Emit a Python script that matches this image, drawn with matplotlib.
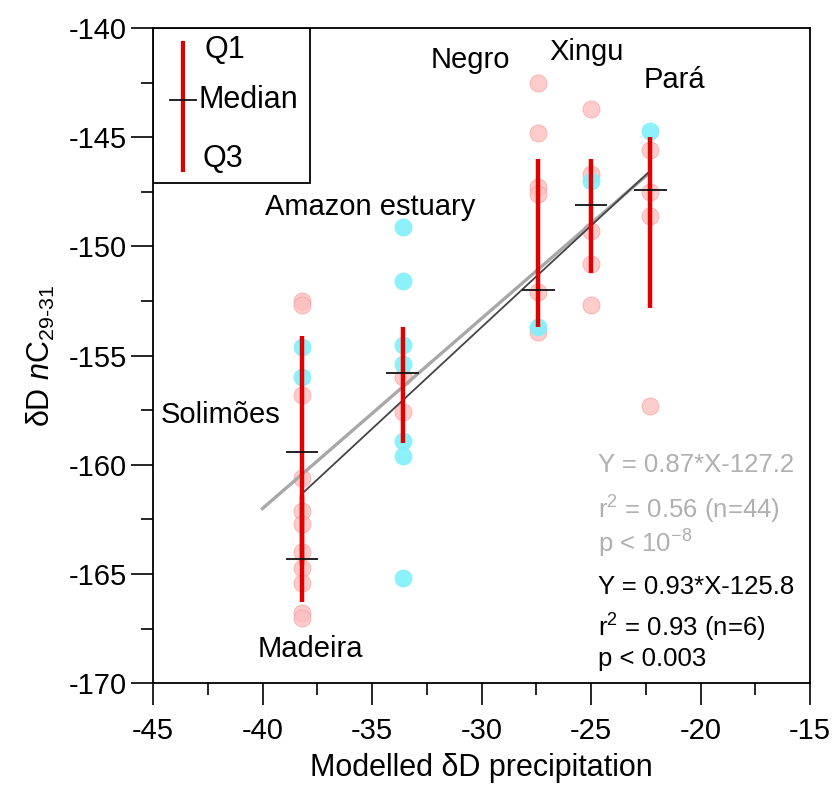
"""Leaf wax dD vs modelled precipitation dD, Amazon tributaries."""

import matplotlib.pyplot as plt
from matplotlib.patches import Rectangle

plt.rcParams["font.family"] = ["Liberation Sans", "DejaVu Sans"]
plt.rcParams["mathtext.fontset"] = "custom"
plt.rcParams["mathtext.rm"] = "Liberation Sans"
plt.rcParams["mathtext.it"] = "Liberation Sans:italic"
plt.rcParams["axes.unicode_minus"] = False

# --- data ---
pink_x = [-38.2] * 11 + [-33.6] * 2 + [-27.4] * 6 + [-25.0] * 5 + [-22.3] * 4
pink_y = [
    -152.5, -152.7, -156.8, -160.6, -162.1, -162.7, -164.0, -164.7, -165.4, -166.8, -167.0,
    -156.0, -157.6,
    -142.5, -144.8, -147.3, -147.6, -152.1, -153.9,
    -143.7, -146.7, -149.3, -150.8, -152.7,
    -145.6, -147.5, -148.6, -157.3,
]
cyan_x = [-38.2] * 2 + [-33.6] * 7 + [-27.4] + [-25.0] + [-22.3]
cyan_y = [
    -154.6, -156.0,
    -149.1, -151.6, -154.5, -155.4, -158.9, -159.6, -165.2,
    -153.7,
    -147.0,
    -144.7,
]

# site summaries: x, Q1, median, Q3
site_x = [-38.2, -38.2, -33.6, -27.4, -25.0, -22.3]
site_q1 = [-154.1, -161.4, -153.7, -146.0, -146.0, -145.0]
site_med = [-159.4, -164.3, -155.8, -152.0, -148.1, -147.4]
site_q3 = [-164.6, -166.3, -159.0, -153.7, -151.2, -152.8]

site_names = ["Solimões", "Madeira", "Amazon estuary", "Negro", "Xingu", "Pará"]
name_pos = [(-41.9, -157.7), (-37.8, -168.45), (-35.1, -148.2), (-30.5, -141.45), (-25.2, -141.1), (-21.2, -142.4)]

# regressions (all samples / site medians)
fit_all = (0.87, -127.2, -40.0, -22.3)
fit_med = (0.93, -125.8, -38.2, -22.3)

fig, ax = plt.subplots(figsize=(8.36, 7.89), dpi=100)
fig.subplots_adjust(left=0.183, right=0.969, bottom=0.134, top=0.9645)

ax.scatter(pink_x, pink_y, s=150, color="#ffbcbc", edgecolors="#f59a9a",
           linewidths=0.6, alpha=0.75, zorder=2)
ax.scatter(cyan_x, cyan_y, s=150, color="#80f0fa", edgecolors="#80f0fa",
           linewidths=0.6, alpha=0.9, zorder=2)

for slope, icpt, x0, x1, col, lw in [
    (*fit_all, "#a8a8a8", 2.4),
    (*fit_med, "#444444", 1.3),
]:
    ax.plot([x0, x1], [slope * x0 + icpt, slope * x1 + icpt], color=col, lw=lw, zorder=3)

ax.vlines(site_x, site_q3, site_q1, color="#e00000", lw=3.2, zorder=4)
ax.hlines(site_med, [x - 0.75 for x in site_x], [x + 0.75 for x in site_x],
          color="#111111", lw=1.3, zorder=5)

for name, (tx, ty) in zip(site_names, name_pos):
    ax.text(tx, ty, name, fontsize=21, ha="center", va="center")

# regression statistics
gray_txt = ["Y = 0.87*X-127.2", "r$^{2}$ = 0.56 (n=44)", "p < 10$^{-8}$"]
gray_y = [-160.0, -162.05, -163.6]
black_txt = ["Y = 0.93*X-125.8", "r$^{2}$ = 0.93 (n=6)", "p < 0.003"]
black_y = [-165.6, -167.45, -168.9]
for t, ty in zip(gray_txt, gray_y):
    ax.text(-24.7, ty, t, fontsize=18.5, color="#b0b0b0", va="center")
for t, ty in zip(black_txt, black_y):
    ax.text(-24.7, ty, t, fontsize=18.5, color="black", va="center")

# legend box
ax.add_patch(Rectangle((0, 0.763), 0.239, 0.237, transform=ax.transAxes,
                       fill=False, lw=1.3, ec="black", zorder=6))
ax.plot([0.0457, 0.0457], [0.783, 0.977], transform=ax.transAxes, color="#e00000", lw=3, zorder=6)
ax.plot([0.026, 0.066], [0.890, 0.890], transform=ax.transAxes, color="#111111", lw=1.3, zorder=7)
ax.text(0.078, 0.966, "Q1", transform=ax.transAxes, fontsize=22, va="center")
ax.text(0.069, 0.890, "Median", transform=ax.transAxes, fontsize=22, va="center")
ax.text(0.076, 0.800, "Q3", transform=ax.transAxes, fontsize=22, va="center")

ax.set_xlim(-45, -15)
ax.set_ylim(-170, -140)
ax.set_xticks(range(-45, -14, 5))
ax.set_yticks(range(-170, -139, 5))
ax.set_xticks([x + 2.5 for x in range(-45, -15, 5)], minor=True)
ax.set_yticks([y + 2.5 for y in range(-170, -140, 5)], minor=True)
ax.tick_params(which="major", direction="out", length=16, width=1.2, labelsize=21)
ax.tick_params(which="minor", direction="out", length=8.5, width=1.2)
ax.tick_params(axis="x", which="major", pad=8)
ax.tick_params(axis="y", which="major", pad=3)
for sp in ax.spines.values():
    sp.set_linewidth(1.3)

ax.set_xlabel("Modelled δD precipitation", fontsize=22, labelpad=6)
ax.set_ylabel("δD $n$C$_{29\u201031}$", fontsize=22, labelpad=8)

fig.savefig("out.png", dpi=100)
